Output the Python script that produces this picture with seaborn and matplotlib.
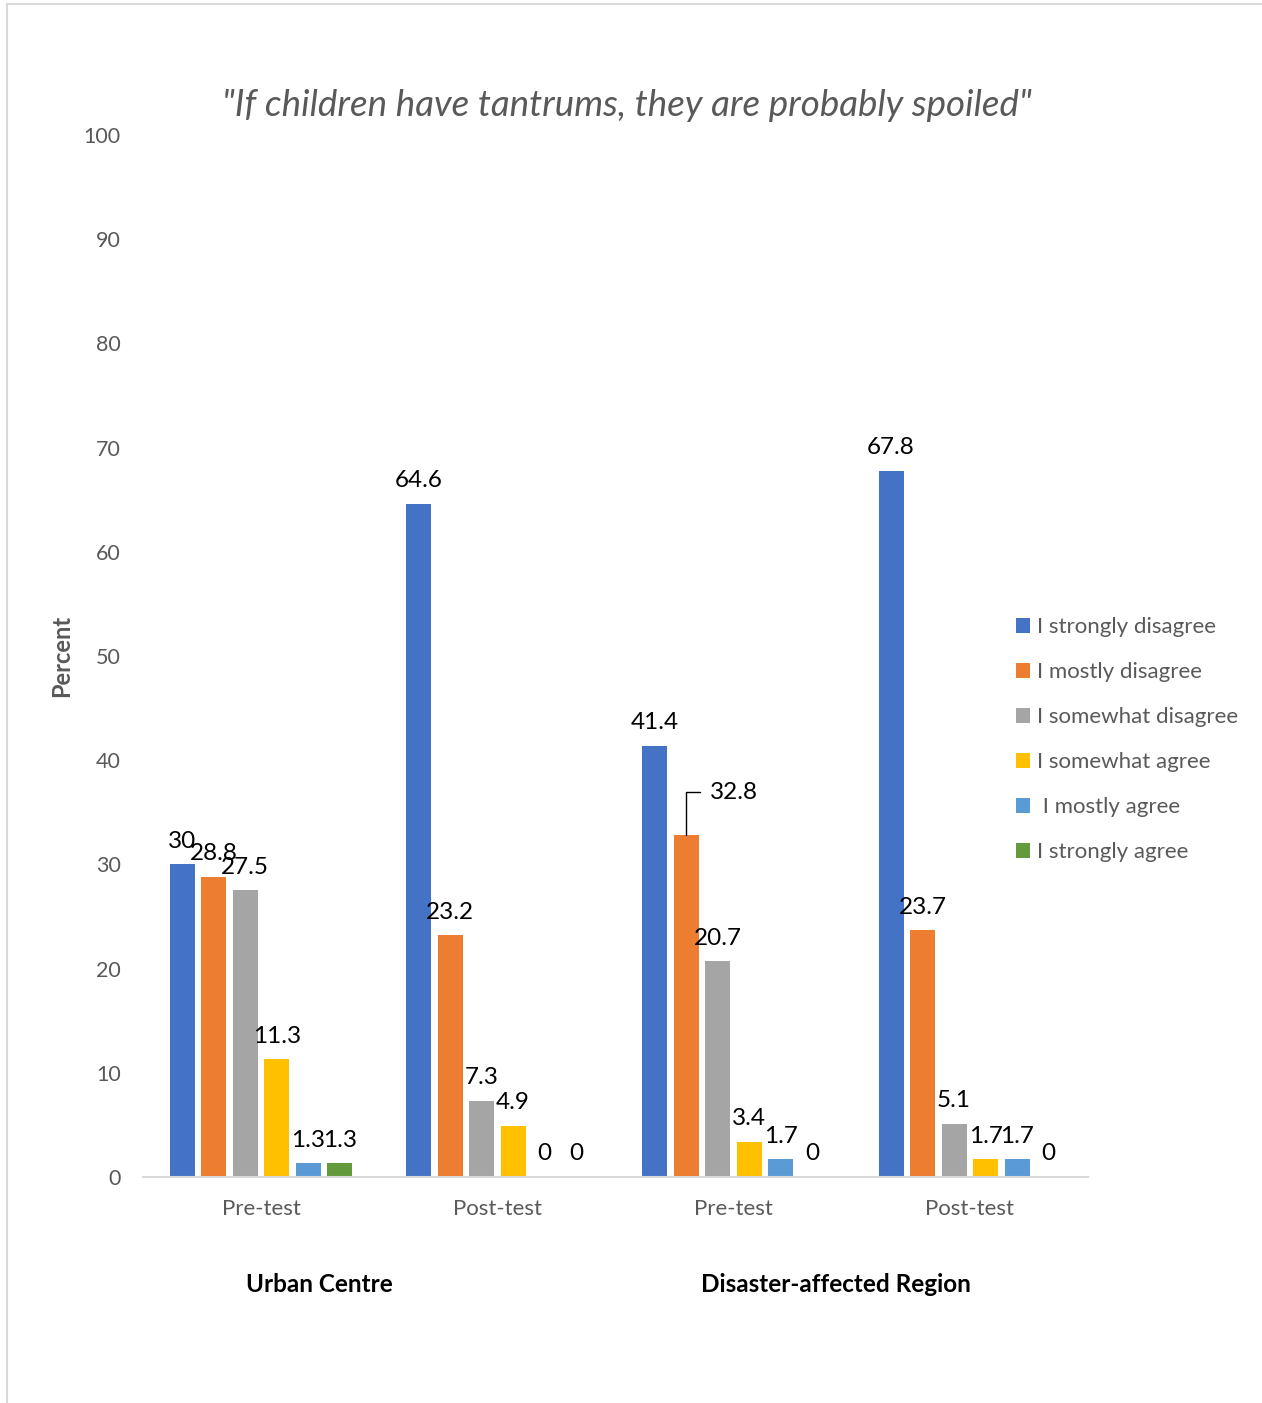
import matplotlib
matplotlib.use("Agg")
import matplotlib.pyplot as plt
import matplotlib.patches as mpatches
import seaborn as sns
import pandas as pd

# Survey responses (percent) by site and test phase
sites = ["Urban Centre", "Urban Centre", "Disaster-affected Region", "Disaster-affected Region"]
phases = ["Pre-test", "Post-test", "Pre-test", "Post-test"]
responses = ["I strongly disagree", "I mostly disagree", "I somewhat disagree",
             "I somewhat agree", " I mostly agree", "I strongly agree"]
strongly_disagree = [30, 64.6, 41.4, 67.8]
mostly_disagree = [28.8, 23.2, 32.8, 23.7]
somewhat_disagree = [27.5, 7.3, 20.7, 5.1]
somewhat_agree = [11.3, 4.9, 3.4, 1.7]
mostly_agree = [1.3, 0, 1.7, 1.7]
strongly_agree = [1.3, 0, 0, 0]
colors = ["#4472C4", "#ED7D31", "#A5A5A5", "#FFC000", "#5B9BD5", "#639A3C"]

series = [strongly_disagree, mostly_disagree, somewhat_disagree,
          somewhat_agree, mostly_agree, strongly_agree]
conditions = [f"{s} {p}" for s, p in zip(sites, phases)]
rows = []
for resp, vals in zip(responses, series):
    for cond, v in zip(conditions, vals):
        rows.append({"condition": cond, "response": resp, "percent": v})
df = pd.DataFrame(rows)

sns.set_theme(style="white")
plt.rcParams["font.family"] = ["Lato", "DejaVu Sans"]
grey = "#595959"

fig = plt.figure(figsize=(12.62, 14.03), dpi=100)
ax = fig.add_axes([143 / 1262, 1 - 1177 / 1403, 945 / 1262, 1042 / 1403])

sns.barplot(data=df, x="condition", y="percent", hue="response",
            order=conditions, hue_order=responses, palette=colors,
            saturation=1, width=0.8, gap=0.2, linewidth=0,
            errorbar=None, legend=False, ax=ax)

ax.set_xlim(-0.5, 3.5)
ax.set_ylim(0, 100)
ax.set_yticks(range(0, 101, 10))
ax.set_xticks(range(len(phases)))
ax.set_xticklabels(phases)
ax.tick_params(axis="y", length=0, pad=16, labelsize=15.5, labelcolor=grey)
ax.tick_params(axis="x", length=0, pad=16, labelsize=16, labelcolor=grey)
ax.set_xlabel("")
ax.set_ylabel("Percent", fontsize=17, fontweight="bold", color=grey, va="center")
ax.yaxis.set_label_coords(-81 / 945, 0.5)
for side in ["top", "right", "left"]:
    ax.spines[side].set_visible(False)
ax.spines["bottom"].set_color("#D9D9D9")
ax.spines["bottom"].set_linewidth(1.5)
ax.grid(False)

# Value labels above each bar
for hi, cont in enumerate(ax.containers):
    for xi, (bar, val) in enumerate(zip(cont, cont.datavalues)):
        cx = bar.get_x() + bar.get_width() / 2
        top = bar.get_height()
        if hi == 1 and xi == 2:
            ax.annotate(f"{val:g}", xy=(cx, top), xytext=(17, 31),
                        textcoords="offset points", ha="left", va="center",
                        fontsize=17.5, color="black",
                        arrowprops=dict(arrowstyle="-", color="black", lw=1,
                                        connectionstyle="angle,angleA=0,angleB=90,rad=0",
                                        relpos=(0, 0.5), patchA=None,
                                        shrinkA=7, shrinkB=0))
        else:
            ax.annotate(f"{val:g}", xy=(cx, top), xytext=(0, 9),
                        textcoords="offset points", ha="center", va="bottom",
                        fontsize=17.5, color="black")

fig.text(627 / 1262, 1 - 105 / 1403,
         '"If children have tantrums, they are probably spoiled"',
         ha="center", va="center", fontsize=26.5, style="italic", color=grey)

fig.text(319 / 1262, 1 - 1285 / 1403, "Urban Centre", ha="center", va="center",
         fontsize=17.5, fontweight="bold", color="black")
fig.text(836 / 1262, 1 - 1285 / 1403, "Disaster-affected Region", ha="center",
         va="center", fontsize=17.5, fontweight="bold", color="black")

handles = [mpatches.Patch(facecolor=c, edgecolor="none") for c in colors]
leg = fig.legend(handles, responses, loc="upper left",
                 bbox_to_anchor=(1007 / 1262, 1 - 608 / 1403),
                 frameon=False, fontsize=16, handlelength=0.65, handleheight=0.65,
                 handletextpad=0.3, labelspacing=1.13, borderaxespad=0)
for t in leg.get_texts():
    t.set_color(grey)

# Light frame around the chart area
fig.patches.append(mpatches.Rectangle((7 / 1262, -0.05), 1.2, 1.05 - 3.5 / 1403,
                                      transform=fig.transFigure, fill=False,
                                      edgecolor="#D9D9D9", lw=1.5, clip_on=False))

fig.savefig("out.png", dpi=100, facecolor="white")
